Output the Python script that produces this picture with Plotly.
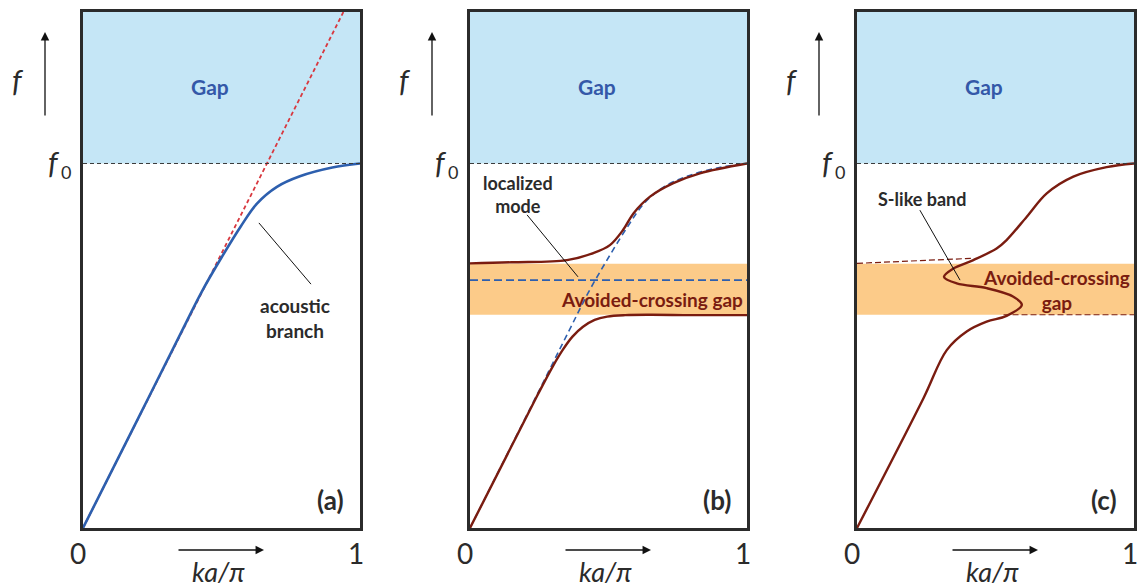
import plotly.graph_objects as go

# ---------------- data ----------------
F_TOP = 1.4156          # top of the frame in units of f0
F0 = 1.0
BAND_LO, BAND_HI = 0.585, 0.725     # avoided-crossing gap
LOCAL_MODE = 0.680                  # localized mode level

# (a) acoustic branch
ac_x = [0, 0.2, 0.36, 0.43, 0.5, 0.57, 0.628, 0.7, 0.783, 0.9, 1.0]
ac_y = [0, 0.302, 0.545, 0.65, 0.742, 0.828, 0.89, 0.936, 0.965, 0.989, 1.0]
# linear (unperturbed) dispersion
lin_x = [0, 0.94]
lin_y = [0, 1.4156]

# (b) hybridised branches
bu_x = [0, 0.15, 0.35, 0.445, 0.505, 0.553, 0.59, 0.65, 0.734, 0.83, 1.0]
bu_y = [0.726, 0.729, 0.735, 0.754, 0.776, 0.818, 0.863, 0.909, 0.946, 0.973, 1.0]
bl_x = [0, 0.242, 0.3, 0.336, 0.37, 0.408, 0.45, 0.495, 0.56, 0.65, 0.8, 1.0]
bl_y = [0, 0.362, 0.445, 0.49, 0.525, 0.552, 0.571, 0.58, 0.584, 0.585, 0.584, 0.584]
loc_x = [0, 1]
loc_y = [LOCAL_MODE, LOCAL_MODE]

# (c) S-like band
s_x = [0, 0.24, 0.324, 0.396, 0.468, 0.54, 0.595, 0.563, 0.468, 0.36, 0.314,
       0.348, 0.42, 0.504, 0.54, 0.613, 0.685, 0.781, 0.901, 1.0]
s_y = [0, 0.356, 0.488, 0.539, 0.566, 0.582, 0.612, 0.635, 0.658, 0.671, 0.689,
       0.712, 0.735, 0.767, 0.79, 0.854, 0.918, 0.964, 0.99, 1.0]
cu_x = [0, 0.42]
cu_y = [0.726, 0.74]
cl_x = [0.529, 1.0]
cl_y = [0.585, 0.585]

# ---------------- styling ----------------
W, H = 1137, 588
LEFTS = [83, 470, 857]     # frame left edges (px)
PW = 277                   # frame width (px)
TOP, BOT = 12, 528         # frame top / bottom (px)

BLUE = "#2d5fae"
DRED = "#7a1c10"
RED = "#d8383f"
GAPBLUE = "#c5e6f6"
ORANGE = "#fccb89"
FRAME = "#2b2b2b"
TXT = "#2b2b2b"
FONT = "Lato"

fig = go.Figure()

axes = ["", "2", "3"]
for i, s in enumerate(axes):
    L = LEFTS[i]
    fig.layout["xaxis" + s] = dict(
        domain=[L / W, (L + PW) / W], range=[0, 1], anchor="y" + s,
        showline=True, mirror=True, linecolor=FRAME, linewidth=2.5,
        showticklabels=False, ticks="", showgrid=False, zeroline=False)
    fig.layout["yaxis" + s] = dict(
        domain=[1 - BOT / H, 1 - TOP / H], range=[0, F_TOP], anchor="x" + s,
        showline=True, mirror=True, linecolor=FRAME, linewidth=2.5,
        showticklabels=False, ticks="", showgrid=False, zeroline=False)

def xr(i):
    return "x" + axes[i]

def yr(i):
    return "y" + axes[i]

def txt(xref, yref, x, y, text, size, color=TXT):
    return dict(xref=xref, yref=yref, x=x, y=y, text=text, showarrow=False,
                xanchor="center", yanchor="middle",
                font=dict(family=FONT, size=size, color=color))

shapes = []
annots = []
for i in range(3):
    # gap above f0
    shapes.append(dict(type="rect", xref=xr(i), yref=yr(i), x0=0, x1=1, y0=F0, y1=F_TOP,
                       fillcolor=GAPBLUE, line=dict(width=0), layer="below"))
    shapes.append(dict(type="line", xref=xr(i), yref=yr(i), x0=0, x1=1, y0=F0, y1=F0,
                       line=dict(color="#3a3a3a", width=1, dash="4px,3px"), layer="above"))
    annots.append(txt(xr(i), yr(i), 0.458, 1.21, "<b>Gap</b>", 21, "#3458a8"))
    L = LEFTS[i]
    # frequency axis label + arrow
    annots.append(txt("paper", "paper", (L - 65) / W, 1 - 80 / H, "<i>f</i>", 30))
    annots.append(dict(xref="paper", yref="paper", x=(L - 38) / W, y=1 - 32 / H,
                       ax=0, ay=85, text="", showarrow=True, arrowhead=2, arrowsize=1.3,
                       arrowwidth=1.3, arrowcolor="#111"))
    annots.append(txt("paper", "paper", (L - 29) / W, 1 - 162 / H, "<i>f</i>", 30))
    annots.append(txt("paper", "paper", (L - 17) / W, 1 - 172 / H, "0", 18))
    # wavevector axis labels + arrow
    annots.append(txt("paper", "paper", (L - 5) / W, 1 - 553 / H, "0", 28))
    annots.append(txt("paper", "paper", (L + 273) / W, 1 - 553 / H, "1", 28))
    annots.append(dict(xref="paper", yref="paper", x=(L + 181) / W, y=1 - 550 / H,
                       ax=-87, ay=0, text="", showarrow=True, arrowhead=2, arrowsize=1.3,
                       arrowwidth=1.3, arrowcolor="#111"))
    annots.append(txt("paper", "paper", (L + 135) / W, 1 - 571 / H, "<i>ka/π</i>", 27))
    annots.append(txt(xr(i), yr(i), 0.892, 0.077, "<b>(%s)</b>" % "abc"[i], 26))

# orange avoided-crossing bands in (b) and (c)
for i in (1, 2):
    shapes.append(dict(type="rect", xref=xr(i), yref=yr(i), x0=0, x1=1, y0=BAND_LO, y1=BAND_HI,
                       fillcolor=ORANGE, line=dict(width=0), layer="below"))

# pointer lines
shapes.append(dict(type="line", xref=xr(0), yref=yr(0), x0=0.635, y0=0.837, x1=0.823, y1=0.669,
                   line=dict(color="#111", width=1)))
shapes.append(dict(type="line", xref=xr(1), yref=yr(1), x0=0.206, y0=0.859, x1=0.39, y1=0.689,
                   line=dict(color="#111", width=1)))
shapes.append(dict(type="line", xref=xr(2), yref=yr(2), x0=0.227, y0=0.872, x1=0.372, y1=0.680,
                   line=dict(color="#111", width=1)))

# text labels
annots.append(txt(xr(0), yr(0), 0.765, 0.575, "<b>acoustic<br>branch</b>", 19))
annots.append(txt(xr(1), yr(1), 0.173, 0.915, "<b>localized<br>mode</b>", 18))
annots.append(txt(xr(1), yr(1), 0.657, 0.626, "<b>Avoided-crossing gap</b>", 19, DRED))
annots.append(txt(xr(2), yr(2), 0.238, 0.903, "<b>S-like band</b>", 18))
annots.append(txt(xr(2), yr(2), 0.72, 0.653, "<b>Avoided-crossing<br>gap</b>", 19, DRED))

# ---------------- traces ----------------
def add(x, y, ax, color, width, dash="solid", shape="spline"):
    fig.add_trace(go.Scatter(x=x, y=y, mode="lines", xaxis=xr(ax), yaxis=yr(ax),
                             line=dict(color=color, width=width, dash=dash, shape=shape,
                                       smoothing=1.0),
                             hoverinfo="skip", showlegend=False))

# (a)
add(lin_x, lin_y, 0, RED, 1.8, dash="4px,3px", shape="linear")
add(ac_x, ac_y, 0, BLUE, 2.6)
# (b)
add(ac_x, ac_y, 1, BLUE, 1.6, dash="6px,4px")
add(loc_x, loc_y, 1, BLUE, 1.6, dash="8px,4px", shape="linear")
add(bu_x, bu_y, 1, DRED, 2.4)
add(bl_x, bl_y, 1, DRED, 2.4)
# (c)
add(cu_x, cu_y, 2, DRED, 1.2, dash="6px,3px", shape="linear")
add(cl_x, cl_y, 2, DRED, 1.2, dash="6px,3px", shape="linear")
add(s_x, s_y, 2, DRED, 2.4)

fig.update_layout(width=W, height=H, margin=dict(l=0, r=0, t=0, b=0),
                  paper_bgcolor="white", plot_bgcolor="white",
                  shapes=shapes, annotations=annots, showlegend=False)

fig.write_html("out.html", config={"displayModeBar": False},
               post_script="document.body.style.margin='0';document.body.style.overflow='hidden';")
